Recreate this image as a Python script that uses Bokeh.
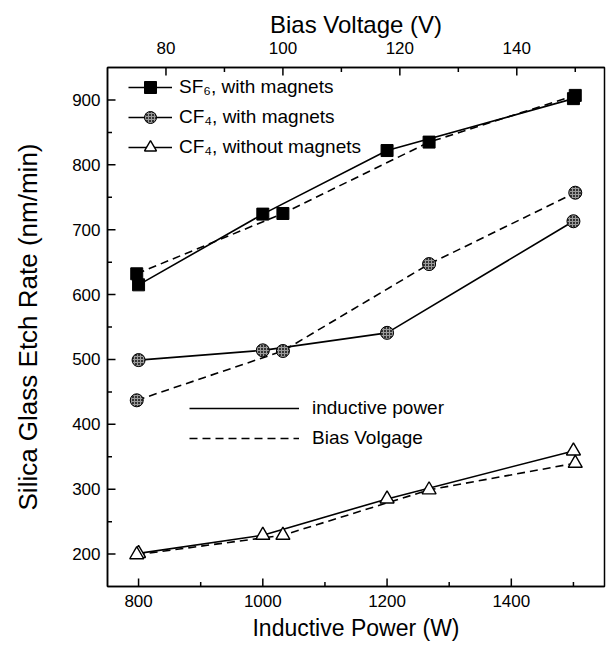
import math
from bokeh.plotting import figure
from bokeh.models import Range1d, LinearAxis, FixedTicker, Legend, LegendItem, Label
from bokeh.embed import file_html
from bokeh.resources import INLINE

# ---- data ----
power_w = [800, 1000, 1200, 1500]          # bottom axis, solid lines
bias_v = [75, 100, 125, 150]               # top axis, dashed lines
sf6_vs_power = [615, 724, 822, 902]
sf6_vs_bias = [632, 725, 835, 907]
cf4_mag_vs_power = [499, 514, 541, 713]
cf4_mag_vs_bias = [437, 513, 647, 757]
cf4_nomag_vs_power = [201, 229, 285, 359]
cf4_nomag_vs_bias = [199, 229, 299, 340]

series_labels = ["SF\u2086, with magnets", "CF\u2084, with magnets", "CF\u2084, without magnets"]
style_labels = ["inductive power", "Bias Volgage"]

# ---- ticks ----
power_major_ticks = [800, 1000, 1200, 1400]
power_minor_ticks = [900, 1100, 1300, 1500]
bias_major_ticks = [80, 100, 120, 140]
bias_minor_ticks = [90, 110, 130, 150]
rate_major_ticks = [200, 300, 400, 500, 600, 700, 800, 900]
rate_minor_ticks = [250, 350, 450, 550, 650, 750, 850]

POWER_RANGE = (750, 1550)
BIAS_RANGE = (70, 155)
RATE_RANGE = (150, 950)

FONT = "Liberation Sans"
W, H = 606, 650
B_TOP, B_BOT, B_LEFT, B_RIGHT = 67, 64, 107, 2
FRAME_H = H - B_TOP - B_BOT

p = figure(width=W, height=H, x_range=Range1d(*POWER_RANGE), y_range=Range1d(*RATE_RANGE),
           output_backend="svg", toolbar_location=None,
           min_border_left=B_LEFT, min_border_right=B_RIGHT,
           min_border_top=B_TOP, min_border_bottom=B_BOT)
p.extra_x_ranges = {"bias": Range1d(*BIAS_RANGE)}
p.grid.visible = False
p.outline_line_color = "black"
p.outline_line_width = 1.5
p.background_fill_color = "white"
p.border_fill_color = "white"

top_axis = LinearAxis(x_range_name="bias", axis_label="Bias Voltage (V)")
p.add_layout(top_axis, "above")

def style_axis(ax, ticks, minor, standoff, label_standoff, title_size="23px"):
    ax.ticker = FixedTicker(ticks=ticks, minor_ticks=minor)
    ax.major_tick_in = 0
    ax.major_tick_out = 0
    ax.minor_tick_in = 0
    ax.minor_tick_out = 0
    ax.major_tick_line_color = None
    ax.minor_tick_line_color = None
    ax.axis_line_width = 1.5
    ax.axis_line_color = "black"
    ax.major_label_text_font = FONT
    ax.major_label_text_font_size = "17px"
    ax.major_label_text_color = "black"
    ax.major_label_standoff = standoff
    ax.axis_label_text_font = FONT
    ax.axis_label_text_font_size = title_size
    ax.axis_label_text_font_style = "normal"
    ax.axis_label_text_color = "black"
    ax.axis_label_standoff = label_standoff

for ax in p.below:
    if isinstance(ax, LinearAxis):
        ax.axis_label = "Inductive Power (W)"
        style_axis(ax, power_major_ticks, power_minor_ticks, 8, 5)
style_axis(top_axis, bias_major_ticks, bias_minor_ticks, 14, 1, "24px")
p.yaxis.axis_label = "Silica Glass Etch Rate (nm/min)"
style_axis(p.yaxis[0], rate_major_ticks, rate_minor_ticks, 7, 26, "26px")

# inward tick marks: dash markers centred on the frame edge (outer half clipped by the frame)
MAJ, MIN = 16, 9
tick_style = dict(marker="dash", line_color="black", line_width=1.5)
p.scatter(power_major_ticks, [RATE_RANGE[0]] * len(power_major_ticks), size=MAJ, angle=math.pi / 2, **tick_style)
p.scatter(power_minor_ticks, [RATE_RANGE[0]] * len(power_minor_ticks), size=MIN, angle=math.pi / 2, **tick_style)
p.scatter(bias_major_ticks, [RATE_RANGE[1]] * len(bias_major_ticks), size=MAJ, angle=math.pi / 2,
          x_range_name="bias", **tick_style)
p.scatter(bias_minor_ticks, [RATE_RANGE[1]] * len(bias_minor_ticks), size=MIN, angle=math.pi / 2,
          x_range_name="bias", **tick_style)
p.scatter([POWER_RANGE[0]] * len(rate_major_ticks), rate_major_ticks, size=MAJ, **tick_style)
p.scatter([POWER_RANGE[0]] * len(rate_minor_ticks), rate_minor_ticks, size=MIN, **tick_style)

LW = 1.6
DASH = "8 5"

sq = dict(marker="square", size=12, fill_color="black", line_color="black")
ci = dict(marker="circle", size=13, fill_color="#333333", line_color="black", line_width=1,
          hatch_pattern="+", hatch_color="#9a9a9a", hatch_scale=3, hatch_weight=1)
tr = dict(marker="triangle", size=14, fill_color="white", line_color="black", line_width=1.4)

# solid: vs inductive power
l_sf6 = p.line(power_w, sf6_vs_power, line_color="black", line_width=LW)
l_cm = p.line(power_w, cf4_mag_vs_power, line_color="black", line_width=LW)
l_cn = p.line(power_w, cf4_nomag_vs_power, line_color="black", line_width=LW)
# dashed: vs bias voltage (top axis)
p.line(bias_v, sf6_vs_bias, line_color="black", line_width=LW, line_dash=DASH, x_range_name="bias")
p.line(bias_v, cf4_mag_vs_bias, line_color="black", line_width=LW, line_dash=DASH, x_range_name="bias")
p.line(bias_v, cf4_nomag_vs_bias, line_color="black", line_width=LW, line_dash=DASH, x_range_name="bias")

s_sf6 = p.scatter(power_w, sf6_vs_power, **sq)
p.scatter(bias_v, sf6_vs_bias, x_range_name="bias", **sq)
s_cm = p.scatter(power_w, cf4_mag_vs_power, **ci)
p.scatter(bias_v, cf4_mag_vs_bias, x_range_name="bias", **ci)
s_cn = p.scatter(power_w, cf4_nomag_vs_power, **tr)
p.scatter(bias_v, cf4_nomag_vs_bias, x_range_name="bias", **tr)

# invisible renderers that only feed the line-style legend
nan = float("nan")
d_solid = p.line(power_w[:2], [nan, nan], line_color="black", line_width=LW)
d_dash = p.line(power_w[:2], [nan, nan], line_color="black", line_width=LW, line_dash=DASH)

def make_legend(items, loc, glyph_w, standoff):
    return Legend(items=items, location=loc, orientation="vertical",
                  glyph_width=glyph_w, glyph_height=30, label_height=30, spacing=0,
                  padding=0, margin=0, label_standoff=standoff,
                  label_text_font=FONT, label_text_font_size="19px", label_text_color="black",
                  border_line_color=None, background_fill_alpha=0)

leg1 = make_legend([LegendItem(label=series_labels[0], renderers=[l_sf6, s_sf6]),
                    LegendItem(label=series_labels[1], renderers=[l_cm, s_cm]),
                    LegendItem(label=series_labels[2], renderers=[l_cn, s_cn])],
                   (21, FRAME_H - 95), 44, 7)
leg2 = make_legend([LegendItem(label=style_labels[0], renderers=[d_solid]),
                    LegendItem(label=style_labels[1], renderers=[d_dash])],
                   (82, FRAME_H - 386), 110, 13)
p.add_layout(leg1, "center")
p.add_layout(leg2, "center")

p.add_layout(Label(x=-95, y=-47, x_units="screen", y_units="screen", text="(a)",
                   text_font=FONT, text_font_size="18px", text_baseline="middle",
                   text_color="black"))

open("out.html", "w").write(file_html(p, INLINE))
